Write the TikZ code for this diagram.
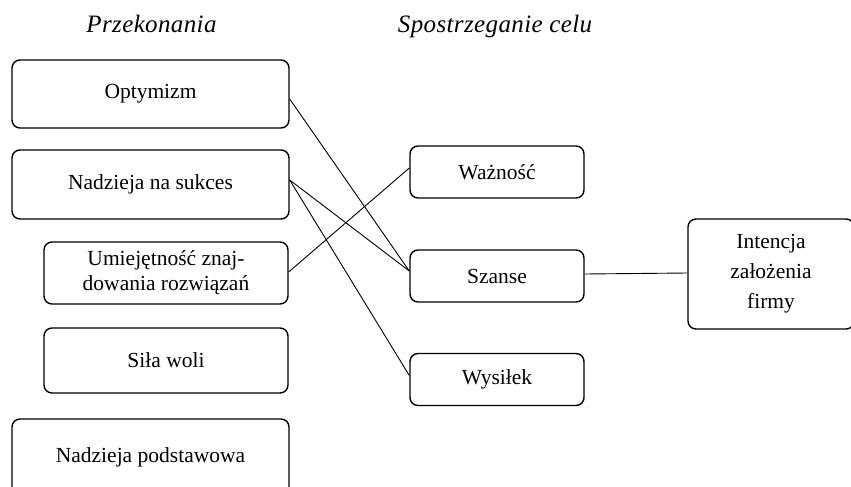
\documentclass[tikz,border=0pt]{standalone}
\usepackage{fontspec}
\setmainfont{Liberation Serif}
\begin{document}
\begin{tikzpicture}[x=1pt,y=-1pt,
  box/.style={draw, line width=1.4pt, rounded corners=8pt, align=center,
    font=\fontsize{21.5}{25}\selectfont, inner sep=0pt},
  conn/.style={line width=0.9pt},
  head/.style={font=\fontsize{25}{29}\selectfont\itshape\addfontfeature{LetterSpace=1.5}, inner sep=0pt, anchor=base}]
\useasboundingbox (0,0) rectangle (851,487);
\clip (0,0) rectangle (851,487);
\node[head] (h1) at (151.5,33) {Przekonania};
\node[head] (h2) at (495,33) {Spostrzeganie celu};
\node[box, minimum width=277, minimum height=68] (opt) at (150.5,94) {Optymizm};
\node[box, minimum width=277, minimum height=69] (nad) at (150.5,184.5) {Nadzieja na sukces};
\node[box, minimum width=244, minimum height=62] (umi) at (166,273) {Umiejętność znaj-\\dowania rozwiązań};
\node[box, minimum width=244, minimum height=65] (sila) at (166,360.5) {Siła woli};
\node[box, minimum width=277, minimum height=76] (pod) at (150.5,457) {Nadzieja podstawowa};
\node[box, minimum width=174, minimum height=52] (waz) at (497,172) {Ważność};
\node[box, minimum width=174, minimum height=52] (szan) at (497,276) {Szanse};
\node[box, minimum width=174, minimum height=52] (wys) at (497,379.5) {Wysiłek};
\node[box, minimum width=166, minimum height=110, text width=150, font=\fontsize{21.5}{30}\selectfont] (int) at (771,274) {Intencja\\założenia\\firmy};
\draw[conn] ([yshift=-5pt]opt.east) -- ([yshift=5pt]szan.west);
\draw[conn] ([yshift=4.5pt]nad.east) -- ([yshift=5pt]szan.west);
\draw[conn] ([yshift=4.5pt]nad.east) -- ([yshift=4pt]wys.west);
\draw[conn] ([yshift=1pt]umi.east) -- ([yshift=4pt]waz.west);
\draw[conn] ([yshift=2pt]szan.east) -- ([yshift=1pt]int.west);
\end{tikzpicture}
\end{document}
